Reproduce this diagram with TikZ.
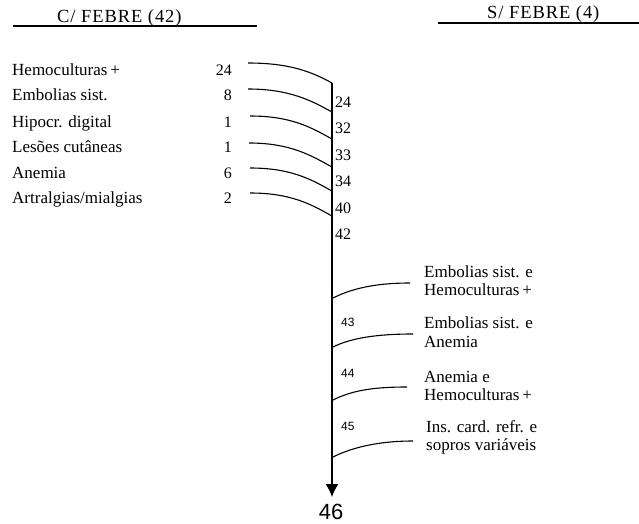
\documentclass[tikz,border=0pt]{standalone}
\usepackage{fontspec}
\setmainfont{Liberation Serif}
\newfontfamily\numsans{Liberation Sans}
\usetikzlibrary{arrows.meta}
\begin{document}
\begin{tikzpicture}[x=1pt,y=-1pt,
  lbl/.style={font=\fontsize{17}{19}\selectfont, inner sep=0pt, anchor=base west},
  num/.style={font=\fontsize{16}{18}\selectfont, inner sep=0pt, anchor=base east},
  axnum/.style={font=\fontsize{16}{18}\selectfont, inner sep=0pt, anchor=base west},
  snum/.style={font=\numsans\fontsize{12}{14}\selectfont, inner sep=0pt, anchor=west},
  hdr/.style={font=\fontsize{18.5}{21}\selectfont\addfontfeature{LetterSpace=5}, inner sep=0pt, anchor=base west},
  link/.style={line width=1.1pt},
  rule/.style={line width=1.2pt},
]
\useasboundingbox (0,0) rectangle (639,524);

% headers
\node[hdr] (hc) at (57,23) {C/ FEBRE (42)};
\node[hdr] (hs) at (487,19) {S/ FEBRE (4)};
\coordinate (ulc1) at (13,26); \coordinate (ulc2) at (257,26);
\coordinate (uls1) at (438,23); \coordinate (uls2) at (639,23);
\draw[rule] (ulc1) -- (ulc2);
\draw[rule] (uls1) -- (uls2);

% left labels
\node[lbl] (l1) at (12,76)  {Hemoculturas\,+};
\node[lbl] (l2) at (12,101) {Embolias sist.};
\node[lbl] (l3) at (12,127) {Hipocr. digital};
\node[lbl] (l4) at (12,152) {Lesões cutâneas};
\node[lbl] (l5) at (12,178) {Anemia};
\node[lbl] (l6) at (12,203) {Artralgias/mialgias};

\node[num] (n1) at (232,76)  {24};
\node[num] (n2) at (232,101) {8};
\node[num] (n3) at (232,127) {1};
\node[num] (n4) at (232,152) {1};
\node[num] (n5) at (232,178) {6};
\node[num] (n6) at (232,203) {2};

% curve endpoints
\coordinate (s1) at (248,63);  \coordinate (e1) at (332,83);
\coordinate (s2) at (248,89);  \coordinate (e2) at (332,112);
\coordinate (s3) at (250,116); \coordinate (e3) at (332,139);
\coordinate (s4) at (249,143); \coordinate (e4) at (332,167);
\coordinate (s5) at (250,168); \coordinate (e5) at (332,191);
\coordinate (s6) at (250,193); \coordinate (e6) at (332,216);

\foreach \i in {1,...,6}{
  \draw[link] (s\i) .. controls +(42,0) and +(-20,-11) .. (e\i);
}

% axis labels
\node[axnum] (a1) at (335,107) {24};
\node[axnum] (a2) at (335,133) {32};
\node[axnum] (a3) at (335,160) {33};
\node[axnum] (a4) at (335,186) {34};
\node[axnum] (a5) at (335,213) {40};
\node[axnum] (a6) at (335,239) {42};

% main axis
\coordinate (top) at (332,83);
\coordinate (bot) at (332,497);
\draw[rule, -{Latex[length=13pt,width=13pt]}] (top) -- (bot);
\node[font=\numsans\fontsize{22}{24}\selectfont, inner sep=0pt] (final) at (331,512) {46};

% right labels
\node[lbl] (r1a) at (424,277) {Embolias sist. e};
\node[lbl] (r1b) at (424,295) {Hemoculturas\,+};
\node[lbl] (r2a) at (424,328) {Embolias sist. e};
\node[lbl] (r2b) at (424,347) {Anemia};
\node[lbl] (r3a) at (424,382) {Anemia e};
\node[lbl] (r3b) at (424,400) {Hemoculturas\,+};
\node[lbl] (r4a) at (426,432) {Ins. card. refr. e};
\node[lbl] (r4b) at (426,450) {sopros variáveis};

\node[snum] (k43) at (341,322) {43};
\node[snum] (k44) at (341,373) {44};
\node[snum] (k45) at (341,426) {45};

\coordinate (p1) at (333,298); \coordinate (q1) at (410,283);
\coordinate (p2) at (333,347); \coordinate (q2) at (413,334);
\coordinate (p3) at (333,400); \coordinate (q3) at (407,387);
\coordinate (p4) at (333,457); \coordinate (q4) at (413,441);
\foreach \i in {1,...,4}{
  \draw[link] (p\i) .. controls +(18,-9) and +(-36,0) .. (q\i);
}
\end{tikzpicture}
\end{document}
